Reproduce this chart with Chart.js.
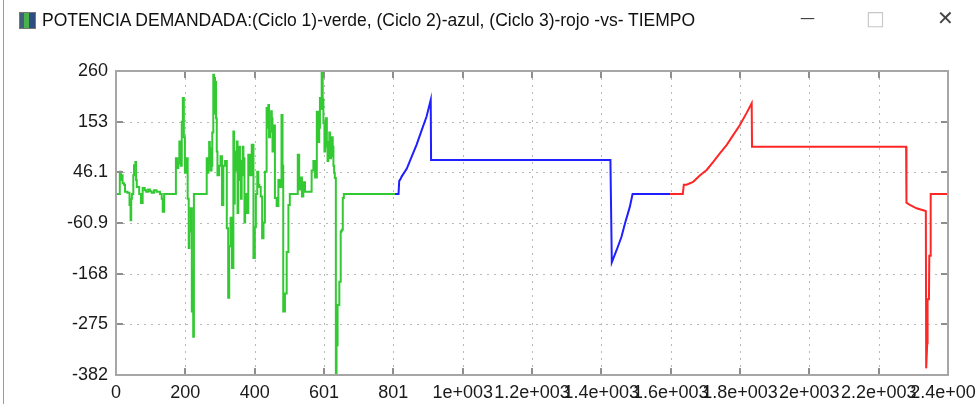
<!DOCTYPE html>
<html>
<head>
<meta charset="utf-8">
<script src="https://cdn.jsdelivr.net/npm/chart.js@4.4.0/dist/chart.umd.min.js"></script>
<style>
  html, body { margin: 0; padding: 0; background: #fff; }
  #wrap { position: relative; width: 976px; height: 404px; overflow: hidden; background: #fff; }
  #edge { position: absolute; left: 3px; top: 0; width: 1px; height: 404px; background: #9a9a9a; }
  #icon { position: absolute; left: 19px; top: 12px; width: 15px; height: 15px; border: 1px solid #777;
          background: linear-gradient(90deg, #41607a 0 30%, #49b24f 30% 62%, #2d4e7e 62%); }
  #title { position: absolute; left: 42px; top: 10px; font: 17.5px "Liberation Sans", Arial, sans-serif; color: #111; white-space: nowrap; }
  .ctl { position: absolute; top: 6px; font: 20px "DejaVu Sans", sans-serif; color: #444; }
  canvas { position: absolute; left: 0; top: 0; }
</style>
</head>
<body>
<div id="wrap">
  <canvas id="chart" width="976" height="404"></canvas>
  <div id="edge"></div>
  <div id="icon"></div>
  <div id="title">POTENCIA DEMANDADA:(Ciclo 1)-verde, (Ciclo 2)-azul, (Ciclo 3)-rojo -vs- TIEMPO</div>
  <div class="ctl" style="left:800px;top:9px;font-size:15px;">—</div>
  <div class="ctl" style="left:866px;color:#c8c8c8;">□</div>
  <div class="ctl" style="left:937px;">✕</div>
</div>
<script>
// axis labels as the original program printed them
const xTickLabels = ["0", "200", "400", "601", "801", "1e+003", "1.2e+003", "1.4e+003",
                     "1.6e+003", "1.8e+003", "2e+003", "2.2e+003", "2.4e+003"];
const yTickLabels = ["-382", "-275", "-168", "-60.9", "46.1", "153", "260"];
const xMax = 2403;
const yMin = -382, yMax = 260;

// Ciclo 1 (verde)
const cycle1Time = [0,4,11,14,16,19,23,26,33,39,
  42,44,46,50,52,56,58,60,67,72,
  77,83,87,93,98,103,110,117,127,132,
  135,139,170,173,177,180,183,187,190,193,
  196,199,204,207,210,212,216,219,221,223,
  225,260,262,264,267,269,271,273,276,278,
  281,283,284,286,289,291,293,298,302,306,
  310,315,320,324,327,331,335,339,341,343,
  346,349,351,353,356,358,361,363,366,368,
  371,373,377,382,387,392,397,401,404,408,
  411,414,418,422,426,430,435,437,440,442,
  445,448,450,452,454,459,464,469,474,478,
  481,483,488,493,498,502,522,525,529,533,
  537,541,546,560,565,570,575,580,584,587,
  589,592,594,597,599,602,604,606,609,611,
  613,616,618,621,623,626,628,630,632,635,
  637,640,645,649,652,655,658,806];
const cycle1Power = [0,0,47,30,40,23,20,5,3,-23,
  -55,-10,0,40,61,68,30,15,0,-19,
  13,8,5,10,6,3,8,5,0,-10,
  -37,0,0,76,55,65,111,60,153,203,
  120,45,76,-10,-114,-79,-30,-248,-160,-301,
  0,0,76,45,65,110,97,50,60,130,
  252,170,245,237,160,90,40,60,80,-23,
  60,70,-72,-219,-110,-50,-156,132,-20,50,
  90,111,-40,30,100,70,-10,40,100,76,
  -60,0,-40,83,40,104,-135,-70,0,47,
  20,15,-5,-93,-60,47,182,140,188,120,
  132,175,160,90,145,-8,-25,30,15,167,
  60,-248,-210,-122,-23,0,0,83,10,35,
  -5,25,5,5,50,70,35,174,110,140,
  203,180,258,200,150,90,132,160,100,70,
  110,130,76,80,120,100,60,45,34,-382,
  -319,-234,-185,-79,-75,-8,0,0];

// Ciclo 2 (azul)
const cycle2Time = [806,816,818,822,825,840,854,868,883,897,909,910,1428,1432,1446,1460,1470,1484,1492,1600];
const cycle2Power = [0,0,28,32,37,54,79,104,135,164,199,72,72,-144,-118,-90,-62,-27,0,0];

// Ciclo 3 (rojo)
const cycle3Time = [1600,1637,1640,1648,1667,1687,1706,1725,1744,1764,1783,1802,1821,1836,1837,
  2282,2283,2293,2312,2336,2339,2340,2343,2344,2348,2349,2352,2353,2403];
const cycle3Power = [0,0,20,20,26,40,51,68,86,104,125,146,171,192,100,
  100,-18,-23,-30,-35,-36,-368,-315,-222,-222,-130,-130,0,0];

const toPoints = (t, p) => t.map((v, i) => ({ x: v, y: p[i] }));

// dotted grid underneath, grey frame with inward ticks on top
const framePlugin = {
  id: 'frame',
  beforeDatasetsDraw(chart) {
    const { ctx, chartArea: a, scales: { x, y } } = chart;
    ctx.save();
    ctx.strokeStyle = '#b8b8b8';
    ctx.lineWidth = 1;
    ctx.setLineDash([2, 5]);
    x.ticks.forEach(t => {
      const px = Math.round(x.getPixelForValue(t.value)) + 0.5;
      ctx.beginPath(); ctx.moveTo(px, a.top); ctx.lineTo(px, a.bottom); ctx.stroke();
    });
    y.ticks.forEach(t => {
      const py = Math.round(y.getPixelForValue(t.value)) + 0.5;
      ctx.beginPath(); ctx.moveTo(a.left, py); ctx.lineTo(a.right, py); ctx.stroke();
    });
    ctx.restore();
  },
  afterDatasetsDraw(chart) {
    const { ctx, chartArea: a, scales: { x, y } } = chart;
    const len = 7;
    ctx.save();
    ctx.strokeStyle = '#8e8e8e';
    ctx.lineWidth = 2;
    x.ticks.forEach(t => {
      const px = Math.round(x.getPixelForValue(t.value));
      ctx.beginPath();
      ctx.moveTo(px, a.top); ctx.lineTo(px, a.top + len);
      ctx.moveTo(px, a.bottom); ctx.lineTo(px, a.bottom - len);
      ctx.stroke();
    });
    y.ticks.forEach(t => {
      const py = Math.round(y.getPixelForValue(t.value));
      ctx.beginPath();
      ctx.moveTo(a.left, py); ctx.lineTo(a.left + len, py);
      ctx.moveTo(a.right, py); ctx.lineTo(a.right - len, py);
      ctx.stroke();
    });
    ctx.strokeStyle = '#a6a6a6';
    ctx.strokeRect(a.left, a.top, a.right - a.left, a.bottom - a.top);
    ctx.restore();
  }
};

const tickFont = { family: '"Liberation Sans", Arial, sans-serif', size: 18 };

new Chart(document.getElementById('chart'), {
  type: 'line',
  data: {
    datasets: [
      { label: 'Ciclo 1', data: toPoints(cycle1Time, cycle1Power), borderColor: '#33c933', stepped: true },
      { label: 'Ciclo 2', data: toPoints(cycle2Time, cycle2Power), borderColor: '#1f1fff' },
      { label: 'Ciclo 3', data: toPoints(cycle3Time, cycle3Power), borderColor: '#ff2626' }
    ]
  },
  options: {
    responsive: false,
    animation: false,
    devicePixelRatio: 1,
    layout: { padding: { top: 71, right: 28, left: 0, bottom: 0 } },
    elements: { point: { radius: 0 }, line: { borderWidth: 2, tension: 0 } },
    plugins: { legend: { display: false }, tooltip: { enabled: false } },
    scales: {
      x: {
        type: 'linear', min: 0, max: xMax,
        grid: { display: false, drawTicks: false }, border: { display: false },
        afterBuildTicks: s => { s.ticks = xTickLabels.map((l, i) => ({ value: i * xMax / (xTickLabels.length - 1) })); },
        afterFit: s => { s.height = 29; s.paddingLeft = 0; s.paddingRight = 0; },
        ticks: { autoSkip: false, maxRotation: 0, minRotation: 0, padding: 7, color: '#1a1a1a', font: tickFont,
                 callback: (v, i) => xTickLabels[i] }
      },
      y: {
        type: 'linear', min: yMin, max: yMax,
        grid: { display: false, drawTicks: false }, border: { display: false },
        afterBuildTicks: s => { s.ticks = yTickLabels.map((l, i) => ({ value: yMin + i * (yMax - yMin) / (yTickLabels.length - 1) })); },
        afterFit: s => { s.width = 116; s.paddingTop = 0; s.paddingBottom = 0; },
        ticks: { padding: 8, color: '#1a1a1a', font: tickFont, callback: (v, i) => yTickLabels[i] }
      }
    }
  },
  plugins: [framePlugin]
});
</script>
</body>
</html>
